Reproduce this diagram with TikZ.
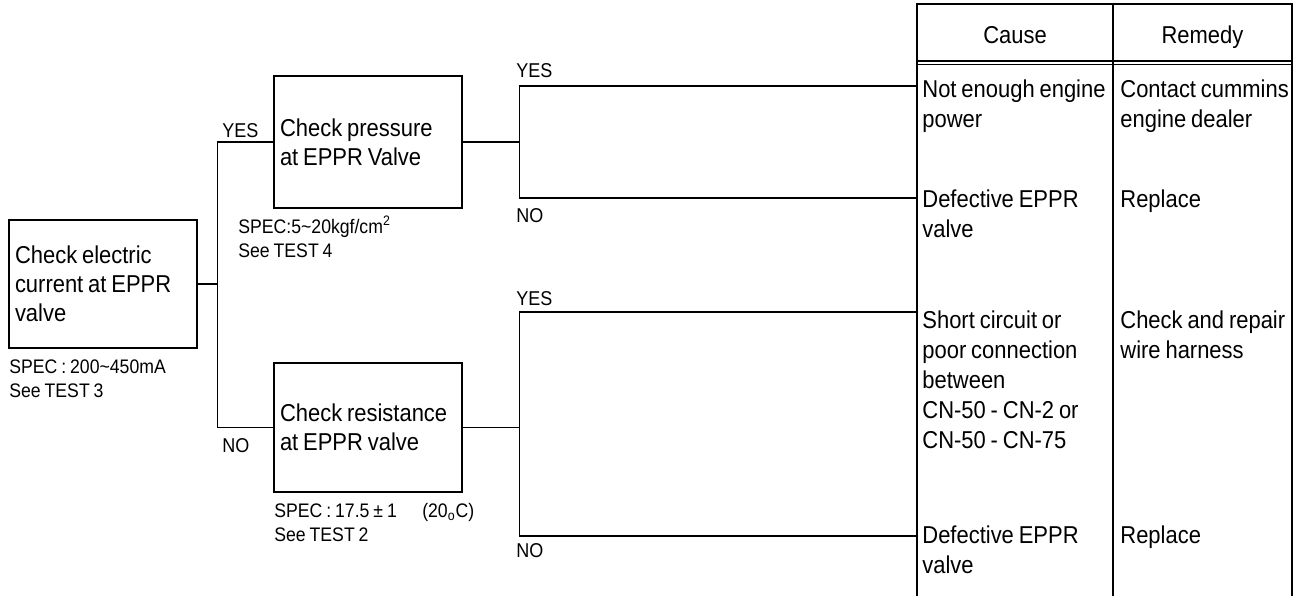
\documentclass[tikz,border=0pt]{standalone}
\usepackage{fontspec}
\setmainfont[FakeStretch=0.9,WordSpace=0.8]{Liberation Sans}
\usetikzlibrary{positioning,calc}
\newcommand{\tightsp}{\spaceskip=0pt \xspaceskip=0pt \relax}

\begin{document}
\begin{tikzpicture}[x=0.5pt,y=-0.5pt,
    chk/.style={draw,line width=0.8pt,inner xsep=3pt,text width=88pt,minimum height=#1,align=left,font=\fontsize{12.2}{14.6}\selectfont},
    spec/.style={anchor=north west,inner sep=0pt,align=left,font=\fontsize{9.8}{12}\selectfont},
    yn/.style={anchor=base west,inner sep=0pt,font=\fontsize{10}{12}\selectfont},
    cell/.style={anchor=north west,inner sep=0pt,align=left,font=\fontsize{12.2}{15}\selectfont},
    wire/.style={line width=0.6pt}]
\useasboundingbox (0,0) rectangle (1301,596);

% check boxes
\node[chk=64pt] (cur) at (103,284) {\tightsp Check electric\\current at EPPR\\valve};
\node[chk=66pt] (prs) at (368,142) {\tightsp Check pressure\\at EPPR Valve};
\node[chk=64.5pt] (res) at (368,427.5) {\tightsp Check resistance\\at EPPR valve};

\node[spec] (spc) at (9,359) {SPEC : 200\textasciitilde450mA\\See TEST 3};
\node[spec] (spp) at (238,216) {SPEC:5\textasciitilde20kgf/cm\textsuperscript{2}\\See TEST 4};
\node[spec] (spr) at (274,503) {SPEC : 17.5 ± 1\hspace{1.3em}(20\textsubscript{o}C)\\See TEST 2};

% yes / no
\node[yn] (y1) at (222,137) {YES};
\node[yn] (n1) at (222,452) {NO};
\node[yn] (y2) at (516,77) {YES};
\node[yn] (n2) at (516,222) {NO};
\node[yn] (y3) at (516,305) {YES};
\node[yn] (n3) at (516,557) {NO};

% table
\draw[line width=0.7pt] (917,596) |- (1292,4) -- (1292,596);
\draw[line width=0.7pt] (1113,4) -- (1113,596);
\foreach \y in {61,64.5}
    \draw[wire] (917,\y) -- (1292,\y);
\node[anchor=base,font=\fontsize{12.2}{15}\selectfont] (hc) at (1015,43) {Cause};
\node[anchor=base,font=\fontsize{12.2}{15}\selectfont] (hr) at (1202.5,43) {Remedy};

\foreach \y/\cs/\rm [count=\i] in {79.5/{Not enough engine\\power}/{Contact cummins\\engine dealer},
        189.5/{Defective EPPR\\valve}/{Replace},
        310.5/{Short circuit or\\poor connection\\between\\CN-50 - CN-2 or\\CN-50 - CN-75}/{Check and repair\\wire harness},
        525.5/{Defective EPPR\\valve}/{Replace}} {
    \node[cell] (cs\i) at (922,\y) {\cs};
    \node[cell] (rm\i) at (1120,\y) {\rm};
}

% connectors
\coordinate (t1) at (917,86);
\coordinate (t2) at (917,198);
\coordinate (t3) at (917,312);
\coordinate (t4) at (917,536);
\draw[wire] (cur.east) -- ++(20,0) |- (prs.west);
\draw[wire] (cur.east) -- ++(20,0) |- (res.west);
\draw[wire] (prs.east) -- ++(57,0) |- (t1);
\draw[wire] (prs.east) -- ++(57,0) |- (t2);
\draw[wire] (res.east) -- ++(57,0) |- (t3);
\draw[wire] (res.east) -- ++(57,0) |- (t4);
\end{tikzpicture}
\end{document}
